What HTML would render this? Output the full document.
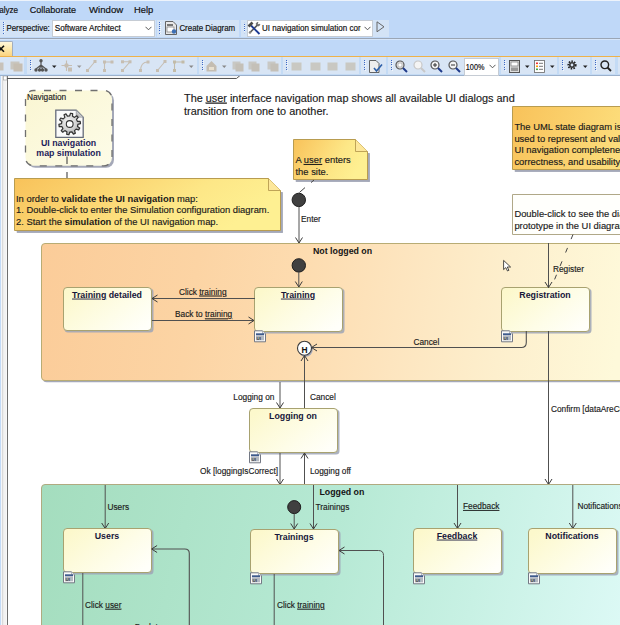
<!DOCTYPE html>
<html><head><meta charset="utf-8">
<style>
html,body{margin:0;padding:0;width:620px;height:625px;overflow:hidden;background:#fff;font-family:"Liberation Sans",sans-serif;}
.a{position:absolute;}
.t{position:absolute;white-space:nowrap;color:#1b1b1b;line-height:1;}
svg{position:absolute;left:0;top:0;}
</style></head><body>
<svg width="620" height="625" viewBox="0 0 620 625" font-family="Liberation Sans">
<defs>
<linearGradient id="gNote" x1="0" y1="0" x2="1" y2="0.3"><stop offset="0" stop-color="#f8c25a"/><stop offset="0.35" stop-color="#fbd470"/><stop offset="0.7" stop-color="#fde787"/><stop offset="1" stop-color="#fef092"/></linearGradient>
<linearGradient id="gNoteR" gradientUnits="userSpaceOnUse" x1="512" y1="106" x2="720" y2="170"><stop offset="0" stop-color="#f8c25a"/><stop offset="0.35" stop-color="#fbd470"/><stop offset="0.7" stop-color="#fde787"/><stop offset="1" stop-color="#fef092"/></linearGradient>
<linearGradient id="gState" x1="0" y1="0.2" x2="1" y2="0.8"><stop offset="0" stop-color="#fcf8cc"/><stop offset="0.6" stop-color="#fefde8"/><stop offset="1" stop-color="#fffffa"/></linearGradient>
<linearGradient id="gNav" x1="0" y1="0" x2="1" y2="1"><stop offset="0" stop-color="#faf6d2"/><stop offset="1" stop-color="#fdfce8"/></linearGradient>
<linearGradient id="gOrange" gradientUnits="userSpaceOnUse" x1="41" y1="243" x2="620" y2="330"><stop offset="0" stop-color="#fbcc99"/><stop offset="0.27" stop-color="#fcd4a4"/><stop offset="0.45" stop-color="#fddcb0"/><stop offset="0.62" stop-color="#fde5bf"/><stop offset="0.8" stop-color="#fdefcd"/><stop offset="1" stop-color="#fef9da"/></linearGradient>
<linearGradient id="gGreen" gradientUnits="userSpaceOnUse" x1="41" y1="484" x2="620" y2="625"><stop offset="0" stop-color="#a4ddbe"/><stop offset="0.5" stop-color="#b6e9d4"/><stop offset="0.75" stop-color="#c8f1e4"/><stop offset="1" stop-color="#dcf9f5"/></linearGradient>
</defs>
<rect x="0" y="76" width="1.2" height="549" fill="#c2daf7"/>
<rect x="1.2" y="76" width="1" height="549" fill="#f4f6f8"/>
<rect x="2.2" y="76" width="1.3" height="549" fill="#d2d2d2"/>
<rect x="3.5" y="76" width="3" height="549" fill="#f2f2f2"/>
<rect x="7" y="76" width="1" height="549" fill="#6e6e6e"/>
<rect x="3.5" y="76" width="3.5" height="4" fill="#fff" stroke="#999" stroke-width="0.6"/>
<rect x="8" y="76" width="232" height="2" fill="#f6f6f6"/>
<path d="M7,78.5 H236.5 L240,75.5" fill="none" stroke="#555" stroke-width="1"/>
<rect x="27.5" y="92.5" width="86.5" height="75.3" rx="8" fill="#a4a8b8"/>
<rect x="25.5" y="90.5" width="86.5" height="75.3" rx="8" fill="url(#gNav)" stroke="#707070" stroke-width="1.3" stroke-dasharray="7,8.5" stroke-dashoffset="5"/>
<text x="27" y="100" font-size="8.3" font-weight="400" text-anchor="start" fill="#222" stroke="#222" stroke-width="0.15" >Navigation</text>
<radialGradient id="gGear" cx="0.45" cy="0.4" r="0.6"><stop offset="0" stop-color="#f6f6f6"/><stop offset="0.6" stop-color="#d2d2d2"/><stop offset="1" stop-color="#a8a8a8"/></radialGradient>
<linearGradient id="gFold" x1="0" y1="1" x2="1" y2="0"><stop offset="0" stop-color="#a8a8a8"/><stop offset="1" stop-color="#f4f4f4"/></linearGradient>
<path d="M55.8,110.2 H76.2 L83.2,117.2 V137.4 H55.8 Z" fill="#fafafa" stroke="#656b7a" stroke-width="1.3"/>
<path d="M76.2,110.2 V117.2 H83.2 Z" fill="url(#gFold)" stroke="#8a8e98" stroke-width="0.6"/>
<path d="M69.70,115.80 L70.51,113.23 L72.65,113.61 L72.53,116.30 L74.52,117.37 L76.69,115.77 L78.19,117.33 L76.51,119.43 L77.50,121.47 L80.19,121.45 L80.49,123.59 L77.89,124.31 L77.50,126.53 L79.69,128.10 L78.67,130.01 L76.15,129.07 L74.52,130.63 L75.37,133.19 L73.42,134.14 L71.94,131.89 L69.70,132.20 L68.89,134.77 L66.75,134.39 L66.87,131.70 L64.88,130.63 L62.71,132.23 L61.21,130.67 L62.89,128.57 L61.90,126.53 L59.21,126.55 L58.91,124.41 L61.51,123.69 L61.90,121.47 L59.71,119.90 L60.73,117.99 L63.25,118.93 L64.88,117.37 L64.03,114.81 L65.98,113.86 L67.46,116.11 Z" fill="url(#gGear)" stroke="#333" stroke-width="1.2" stroke-linejoin="round"/>
<circle cx="69.7" cy="124" r="3.4" fill="#fff" stroke="#333" stroke-width="1.1"/>
<text x="68.6" y="146" font-size="8.8" font-weight="700" text-anchor="middle" fill="#1c1c5a" >UI navigation</text>
<text x="68.6" y="155.6" font-size="8.8" font-weight="700" text-anchor="middle" fill="#1c1c5a" >map simulation</text>
<path d="M67,156.5 V164 M67,172 V178" stroke="#444" stroke-width="1.1"/>
<path d="M16.5,191.5 L282.7,192.5 V232.7 H17.0 V230.5  H280.5 Z" fill="#a4a8b8"/><rect x="280.5" y="192.0" width="2.2" height="40.7" fill="#a4a8b8"/><rect x="16.7" y="230.5" width="266.0" height="2.2" fill="#a4a8b8"/><path d="M14.5,178.5 H268.5 L280.5,190.5 V230.5 H14.5 Z" fill="url(#gNote)" stroke="#b89c50" stroke-width="1"/><path d="M268.5,178.5 V190.5 H280.5" fill="#fde79a" stroke="#b89c50" stroke-width="0.9"/>
<text x="16" y="201.6" font-size="9.4" fill="#1a1a1a" stroke="#1a1a1a" stroke-width="0.15" xml:space="preserve"><tspan>In order to </tspan><tspan font-weight="700" stroke-width="0">validate the UI navigation</tspan><tspan> map:</tspan></text>
<text x="16" y="213" font-size="9.4" fill="#1a1a1a" stroke="#1a1a1a" stroke-width="0.15" xml:space="preserve"><tspan>1. Double-click to enter the Simulation configuration diagram.</tspan></text>
<text x="16" y="224.8" font-size="9.4" fill="#1a1a1a" stroke="#1a1a1a" stroke-width="0.15" xml:space="preserve"><tspan>2. Start the </tspan><tspan font-weight="700" stroke-width="0">simulation</tspan><tspan> of the UI navigation map.</tspan></text>
<text x="184" y="101.6" font-size="10.88" fill="#1a1a1a" stroke="#1a1a1a" stroke-width="0.15" xml:space="preserve"><tspan>The </tspan><tspan text-decoration="underline">user</tspan><tspan> interface navigation map shows all available UI dialogs and</tspan></text>
<text x="184" y="114.8" font-size="10.88" fill="#1a1a1a" stroke="#1a1a1a" stroke-width="0.15" xml:space="preserve"><tspan>transition from one to another.</tspan></text>
<path d="M295.5,152.5 L369.7,153.5 V181.7 H296.0 V179.5  H367.5 Z" fill="#a4a8b8"/><rect x="367.5" y="153.0" width="2.2" height="28.7" fill="#a4a8b8"/><rect x="295.7" y="179.5" width="74.0" height="2.2" fill="#a4a8b8"/><path d="M293.5,139.5 H355.5 L367.5,151.5 V179.5 H293.5 Z" fill="url(#gNote)" stroke="#b89c50" stroke-width="1"/><path d="M355.5,139.5 V151.5 H367.5" fill="#fde79a" stroke="#b89c50" stroke-width="0.9"/>
<text x="295.5" y="163" font-size="9.4" fill="#1a1a1a" stroke="#1a1a1a" stroke-width="0.15" xml:space="preserve"><tspan>A </tspan><tspan text-decoration="underline">user</tspan><tspan> enters</tspan></text>
<text x="295.5" y="175" font-size="9.4" fill="#1a1a1a" stroke="#1a1a1a" stroke-width="0.15" xml:space="preserve"><tspan>the site.</tspan></text>
<path d="M314,180 L311,182.6 M305,187.6 L299.5,192.4" stroke="#444" stroke-width="1"/>
<path d="M514.5,119.5 L702.7,120.5 V171.7 H515.0 V169.5  H700.5 Z" fill="#a4a8b8"/><rect x="700.5" y="120.0" width="2.2" height="51.7" fill="#a4a8b8"/><rect x="514.7" y="169.5" width="188.0" height="2.2" fill="#a4a8b8"/><path d="M512.5,106.5 H688.5 L700.5,118.5 V169.5 H512.5 Z" fill="url(#gNoteR)" stroke="#b89c50" stroke-width="1"/><path d="M688.5,106.5 V118.5 H700.5" fill="#fde79a" stroke="#b89c50" stroke-width="0.9"/>
<text x="514.4" y="130.3" font-size="9.4" fill="#1a1a1a" stroke="#1a1a1a" stroke-width="0.15" xml:space="preserve"><tspan>The UML state diagram is</tspan></text>
<text x="514.4" y="142" font-size="9.4" fill="#1a1a1a" stroke="#1a1a1a" stroke-width="0.15" xml:space="preserve"><tspan>used to represent and validate</tspan></text>
<text x="514.4" y="153.2" font-size="9.4" fill="#1a1a1a" stroke="#1a1a1a" stroke-width="0.15" xml:space="preserve"><tspan>UI navigation completeness,</tspan></text>
<text x="514.4" y="165" font-size="9.4" fill="#1a1a1a" stroke="#1a1a1a" stroke-width="0.15" xml:space="preserve"><tspan>correctness, and usability.</tspan></text>
<path d="M512.5,194.5 H688.5 L700.5,206.5 V234.5 H512.5 Z" fill="#fffffc" stroke="#b0a888" stroke-width="1"/><path d="M688.5,194.5 V206.5 H700.5" fill="#fde79a" stroke="#b0a888" stroke-width="0.9"/>
<text x="514.4" y="217.3" font-size="9.4" fill="#1a1a1a" stroke="#1a1a1a" stroke-width="0.15" xml:space="preserve"><tspan>Double-click to see the dialog</tspan></text>
<text x="514.4" y="229" font-size="9.4" fill="#1a1a1a" stroke="#1a1a1a" stroke-width="0.15" xml:space="preserve"><tspan>prototype in the UI diagram.</tspan></text>
<circle cx="298.8" cy="199.9" r="6.7" fill="#404040" stroke="#1e1e1e" stroke-width="1"/>
<line x1="299.0" y1="207" x2="299.0" y2="243" stroke="#505050" stroke-width="1"/>
<path d="M295.5,237.5 L299,243 L302.5,237.5" fill="none" stroke="#3c3c3c" stroke-width="1"/>
<text x="301" y="222" font-size="8.3" font-weight="400" text-anchor="start" fill="#1a1a1a" stroke="#1a1a1a" stroke-width="0.15" >Enter</text>
<rect x="43" y="245.2" width="600" height="137" rx="3.5" fill="#a4a8b8"/>
<rect x="41.5" y="243.5" width="600" height="137" rx="3.5" fill="url(#gOrange)" stroke="#b8ac74" stroke-width="1"/>
<text x="313" y="254.2" font-size="8.8" font-weight="700" text-anchor="start" fill="#141414" >Not logged on</text>
<circle cx="298.8" cy="265.4" r="6.7" fill="#404040" stroke="#1e1e1e" stroke-width="1"/>
<line x1="298.8" y1="272" x2="298.8" y2="287" stroke="#505050" stroke-width="1"/>
<path d="M295.3,281.5 L298.8,287 L302.3,281.5" fill="none" stroke="#3c3c3c" stroke-width="1"/>
<rect x="64.5" y="288.5" width="89" height="44" rx="3.5" fill="#9ea4b6" opacity="0.85"/><rect x="63.5" y="287.5" width="88" height="43" rx="3.5" fill="url(#gState)" stroke="#a8a270" stroke-width="1"/><text x="107.0" y="297.6" font-size="8.8" font-weight="700" text-anchor="middle" fill="#17173a" xml:space="preserve"><tspan text-decoration="underline">Training</tspan> detailed</text>
<rect x="255.5" y="288.5" width="89" height="45" rx="3.5" fill="#9ea4b6" opacity="0.85"/><rect x="254.5" y="287.5" width="88" height="44" rx="3.5" fill="url(#gState)" stroke="#a8a270" stroke-width="1"/><text x="298.0" y="297.6" font-size="8.8" font-weight="700" text-anchor="middle" fill="#17173a" xml:space="preserve"><tspan text-decoration="underline">Training</tspan></text><g transform="translate(254,330.3)"><path d="M0.5,0.5 H8.5 L11.5,3.5 V11.5 H0.5 Z" fill="#fafafa" stroke="#737884" stroke-width="1"/><path d="M8.5,0.5 V3.5 H11.5" fill="#e8e8e8" stroke="#8a8e98" stroke-width="0.6"/><rect x="2" y="3" width="8" height="2" fill="#3e5a8c"/><rect x="2" y="5.2" width="8" height="4.8" fill="#b4b8c0"/><text x="2.6" y="9.6" font-size="4.4" font-weight="700" fill="#30343c">UI</text></g>
<rect x="502.5" y="288.5" width="89" height="45" rx="3.5" fill="#9ea4b6" opacity="0.85"/><rect x="501.5" y="287.5" width="88" height="44" rx="3.5" fill="url(#gState)" stroke="#a8a270" stroke-width="1"/><text x="545.0" y="297.6" font-size="8.8" font-weight="700" text-anchor="middle" fill="#17173a" >Registration</text><g transform="translate(501,330.3)"><path d="M0.5,0.5 H8.5 L11.5,3.5 V11.5 H0.5 Z" fill="#fafafa" stroke="#737884" stroke-width="1"/><path d="M8.5,0.5 V3.5 H11.5" fill="#e8e8e8" stroke="#8a8e98" stroke-width="0.6"/><rect x="2" y="3" width="8" height="2" fill="#3e5a8c"/><rect x="2" y="5.2" width="8" height="4.8" fill="#b4b8c0"/><text x="2.6" y="9.6" font-size="4.4" font-weight="700" fill="#30343c">UI</text></g>
<line x1="152" y1="298.5" x2="255" y2="298.5" stroke="#505050" stroke-width="1"/>
<path d="M157.5,295.0 L152,298.5 L157.5,302.0" fill="none" stroke="#3c3c3c" stroke-width="1"/>
<text x="179" y="294.6" font-size="8.3" fill="#1a1a1a" stroke="#1a1a1a" stroke-width="0.15" xml:space="preserve"><tspan>Click </tspan><tspan text-decoration="underline">training</tspan></text>
<line x1="152" y1="320.5" x2="254" y2="320.5" stroke="#505050" stroke-width="1"/>
<path d="M248.5,317.0 L254,320.5 L248.5,324.0" fill="none" stroke="#3c3c3c" stroke-width="1"/>
<text x="175" y="317.4" font-size="8.3" fill="#1a1a1a" stroke="#1a1a1a" stroke-width="0.15" xml:space="preserve"><tspan>Back to </tspan><tspan text-decoration="underline">training</tspan></text>
<circle cx="305.6" cy="349.6" r="7.2" fill="#a4a8b8"/>
<circle cx="304.5" cy="348.2" r="7" fill="#fff" stroke="#3c3c3c" stroke-width="1.1"/>
<text x="304.5" y="352.5" font-size="8.4" font-weight="700" text-anchor="middle" fill="#111" >H</text>
<path d="M526.3,331 V342.5 Q526.3,347.5 521.3,347.5 H311.5" fill="none" stroke="#505050" stroke-width="1.1"/>
<path d="M317.0,344.0 L311.5,347.5 L317.0,351.0" fill="none" stroke="#3c3c3c" stroke-width="1"/>
<text x="413.5" y="344.6" font-size="8.3" font-weight="400" text-anchor="start" fill="#1a1a1a" stroke="#1a1a1a" stroke-width="0.15" >Cancel</text>
<line x1="548.5" y1="243" x2="548.5" y2="287.5" stroke="#505050" stroke-width="1"/>
<path d="M545.0,282.0 L548.5,287.5 L552.0,282.0" fill="none" stroke="#3c3c3c" stroke-width="1"/>
<text x="553" y="271.6" font-size="8.3" font-weight="400" text-anchor="start" fill="#1a1a1a" stroke="#1a1a1a" stroke-width="0.15" >Register</text>
<line x1="573" y1="234.5" x2="551.5" y2="287" stroke="#444" stroke-width="1" stroke-dasharray="5,9.5"/>
<line x1="548.5" y1="331" x2="548.5" y2="484.5" stroke="#505050" stroke-width="1"/>
<path d="M545.0,479.0 L548.5,484.5 L552.0,479.0" fill="none" stroke="#3c3c3c" stroke-width="1"/>
<text x="551" y="411.5" font-size="8.3" font-weight="400" text-anchor="start" fill="#1a1a1a" stroke="#1a1a1a" stroke-width="0.15" >Confirm [dataAreCorrect]</text>
<line x1="280.0" y1="382" x2="280.0" y2="408" stroke="#505050" stroke-width="1"/>
<path d="M276.5,402.5 L280,408 L283.5,402.5" fill="none" stroke="#3c3c3c" stroke-width="1"/>
<text x="233.3" y="400" font-size="8.3" font-weight="400" text-anchor="start" fill="#1a1a1a" stroke="#1a1a1a" stroke-width="0.15" >Logging on</text>
<line x1="304.5" y1="356" x2="304.5" y2="408" stroke="#505050" stroke-width="1"/>
<path d="M301.0,361.0 L304.5,355.5 L308.0,361.0" fill="none" stroke="#3c3c3c" stroke-width="1"/>
<text x="310" y="400" font-size="8.3" font-weight="400" text-anchor="start" fill="#1a1a1a" stroke="#1a1a1a" stroke-width="0.15" >Cancel</text>
<rect x="250.5" y="409.5" width="89" height="45" rx="3.5" fill="#9ea4b6" opacity="0.85"/><rect x="249.5" y="408.5" width="88" height="44" rx="3.5" fill="url(#gState)" stroke="#a8a270" stroke-width="1"/><text x="293.0" y="418.6" font-size="8.8" font-weight="700" text-anchor="middle" fill="#17173a" >Logging on</text><g transform="translate(249,451.3)"><path d="M0.5,0.5 H8.5 L11.5,3.5 V11.5 H0.5 Z" fill="#fafafa" stroke="#737884" stroke-width="1"/><path d="M8.5,0.5 V3.5 H11.5" fill="#e8e8e8" stroke="#8a8e98" stroke-width="0.6"/><rect x="2" y="3" width="8" height="2" fill="#3e5a8c"/><rect x="2" y="5.2" width="8" height="4.8" fill="#b4b8c0"/><text x="2.6" y="9.6" font-size="4.4" font-weight="700" fill="#30343c">UI</text></g>
<line x1="280.0" y1="453" x2="280.0" y2="484.5" stroke="#505050" stroke-width="1"/>
<path d="M276.5,479.0 L280,484.5 L283.5,479.0" fill="none" stroke="#3c3c3c" stroke-width="1"/>
<text x="278" y="473.6" font-size="8.3" font-weight="400" text-anchor="end" fill="#1a1a1a" stroke="#1a1a1a" stroke-width="0.15" >Ok [loggingIsCorrect]</text>
<line x1="304.5" y1="453" x2="304.5" y2="484.5" stroke="#505050" stroke-width="1"/>
<path d="M301.0,458.5 L304.5,453 L308.0,458.5" fill="none" stroke="#3c3c3c" stroke-width="1"/>
<text x="310" y="473.6" font-size="8.3" font-weight="400" text-anchor="start" fill="#1a1a1a" stroke="#1a1a1a" stroke-width="0.15" >Logging off</text>
<rect x="43" y="486.5" width="600" height="200" rx="3.5" fill="#a4a8b8"/>
<rect x="41.5" y="484.5" width="600" height="200" rx="3.5" fill="url(#gGreen)" stroke="#b0aa80" stroke-width="1"/>
<text x="319.4" y="494.8" font-size="8.8" font-weight="700" text-anchor="start" fill="#141414" >Logged on</text>
<line x1="105.2" y1="485" x2="105.2" y2="528.5" stroke="#505050" stroke-width="1"/>
<path d="M101.7,523.0 L105.2,528.5 L108.7,523.0" fill="none" stroke="#3c3c3c" stroke-width="1"/>
<text x="107.4" y="509.7" font-size="8.3" font-weight="400" text-anchor="start" fill="#1a1a1a" stroke="#1a1a1a" stroke-width="0.15" >Users</text>
<rect x="64.5" y="529.5" width="89" height="45" rx="3.5" fill="#9ea4b6" opacity="0.85"/><rect x="63.5" y="528.5" width="88" height="44" rx="3.5" fill="url(#gState)" stroke="#a8a270" stroke-width="1"/><text x="107.0" y="538.6" font-size="8.8" font-weight="700" text-anchor="middle" fill="#17173a" >Users</text><g transform="translate(63,571.3)"><path d="M0.5,0.5 H8.5 L11.5,3.5 V11.5 H0.5 Z" fill="#fafafa" stroke="#737884" stroke-width="1"/><path d="M8.5,0.5 V3.5 H11.5" fill="#e8e8e8" stroke="#8a8e98" stroke-width="0.6"/><rect x="2" y="3" width="8" height="2" fill="#3e5a8c"/><rect x="2" y="5.2" width="8" height="4.8" fill="#b4b8c0"/><text x="2.6" y="9.6" font-size="4.4" font-weight="700" fill="#30343c">UI</text></g>
<circle cx="294.2" cy="507.1" r="6.5" fill="#404040" stroke="#1e1e1e" stroke-width="1"/>
<line x1="294.2" y1="514" x2="294.2" y2="529" stroke="#505050" stroke-width="1"/>
<path d="M290.7,523.5 L294.2,529 L297.7,523.5" fill="none" stroke="#3c3c3c" stroke-width="1"/>
<line x1="313.5" y1="485" x2="313.5" y2="529" stroke="#505050" stroke-width="1"/>
<path d="M310.0,523.5 L313.5,529 L317.0,523.5" fill="none" stroke="#3c3c3c" stroke-width="1"/>
<text x="315.5" y="509.8" font-size="8.3" font-weight="400" text-anchor="start" fill="#1a1a1a" stroke="#1a1a1a" stroke-width="0.15" >Trainings</text>
<rect x="251.5" y="530.5" width="89" height="45" rx="3.5" fill="#9ea4b6" opacity="0.85"/><rect x="250.5" y="529.5" width="88" height="44" rx="3.5" fill="url(#gState)" stroke="#a8a270" stroke-width="1"/><text x="294.0" y="539.6" font-size="8.8" font-weight="700" text-anchor="middle" fill="#17173a" >Trainings</text><g transform="translate(250,572.3)"><path d="M0.5,0.5 H8.5 L11.5,3.5 V11.5 H0.5 Z" fill="#fafafa" stroke="#737884" stroke-width="1"/><path d="M8.5,0.5 V3.5 H11.5" fill="#e8e8e8" stroke="#8a8e98" stroke-width="0.6"/><rect x="2" y="3" width="8" height="2" fill="#3e5a8c"/><rect x="2" y="5.2" width="8" height="4.8" fill="#b4b8c0"/><text x="2.6" y="9.6" font-size="4.4" font-weight="700" fill="#30343c">UI</text></g>
<line x1="457.5" y1="485" x2="457.5" y2="528.5" stroke="#505050" stroke-width="1"/>
<path d="M454.0,523.0 L457.5,528.5 L461.0,523.0" fill="none" stroke="#3c3c3c" stroke-width="1"/>
<text x="463" y="509" font-size="8.3" fill="#1a1a1a" stroke="#1a1a1a" stroke-width="0.15" xml:space="preserve"><tspan text-decoration="underline">Feedback</tspan></text>
<rect x="414.5" y="529.5" width="89" height="46" rx="3.5" fill="#9ea4b6" opacity="0.85"/><rect x="413.5" y="528.5" width="88" height="45" rx="3.5" fill="url(#gState)" stroke="#a8a270" stroke-width="1"/><text x="457.0" y="538.6" font-size="8.8" font-weight="700" text-anchor="middle" fill="#17173a" xml:space="preserve"><tspan text-decoration="underline">Feedback</tspan></text><g transform="translate(413,572.3)"><path d="M0.5,0.5 H8.5 L11.5,3.5 V11.5 H0.5 Z" fill="#fafafa" stroke="#737884" stroke-width="1"/><path d="M8.5,0.5 V3.5 H11.5" fill="#e8e8e8" stroke="#8a8e98" stroke-width="0.6"/><rect x="2" y="3" width="8" height="2" fill="#3e5a8c"/><rect x="2" y="5.2" width="8" height="4.8" fill="#b4b8c0"/><text x="2.6" y="9.6" font-size="4.4" font-weight="700" fill="#30343c">UI</text></g>
<line x1="572.8" y1="485" x2="572.8" y2="528.5" stroke="#505050" stroke-width="1"/>
<path d="M569.3,523.0 L572.8,528.5 L576.3,523.0" fill="none" stroke="#3c3c3c" stroke-width="1"/>
<text x="577.4" y="509" font-size="8.3" font-weight="400" text-anchor="start" fill="#1a1a1a" stroke="#1a1a1a" stroke-width="0.15" >Notifications</text>
<rect x="529.5" y="529.5" width="89" height="46" rx="3.5" fill="#9ea4b6" opacity="0.85"/><rect x="528.5" y="528.5" width="88" height="45" rx="3.5" fill="url(#gState)" stroke="#a8a270" stroke-width="1"/><text x="572.0" y="538.6" font-size="8.8" font-weight="700" text-anchor="middle" fill="#17173a" >Notifications</text><g transform="translate(528,572.3)"><path d="M0.5,0.5 H8.5 L11.5,3.5 V11.5 H0.5 Z" fill="#fafafa" stroke="#737884" stroke-width="1"/><path d="M8.5,0.5 V3.5 H11.5" fill="#e8e8e8" stroke="#8a8e98" stroke-width="0.6"/><rect x="2" y="3" width="8" height="2" fill="#3e5a8c"/><rect x="2" y="5.2" width="8" height="4.8" fill="#b4b8c0"/><text x="2.6" y="9.6" font-size="4.4" font-weight="700" fill="#30343c">UI</text></g>
<line x1="82.8" y1="573" x2="82.8" y2="625" stroke="#505050" stroke-width="1"/>
<text x="85" y="607.8" font-size="8.3" fill="#1a1a1a" stroke="#1a1a1a" stroke-width="0.15" xml:space="preserve"><tspan>Click </tspan><tspan text-decoration="underline">user</tspan></text>
<path d="M189.3,625 V553.5 Q189.3,549 184.8,549 H152" fill="none" stroke="#505050" stroke-width="1.1"/>
<path d="M157.1,545.5 L151.6,549 L157.1,552.5" fill="none" stroke="#3c3c3c" stroke-width="1"/>
<text x="134.7" y="630.2" font-size="8.3" font-weight="400" text-anchor="start" fill="#1a1a1a" stroke="#1a1a1a" stroke-width="0.15" >Back to</text>
<line x1="274.2" y1="574" x2="274.2" y2="625" stroke="#505050" stroke-width="1"/>
<text x="277" y="607.8" font-size="8.3" fill="#1a1a1a" stroke="#1a1a1a" stroke-width="0.15" xml:space="preserve"><tspan>Click </tspan><tspan text-decoration="underline">training</tspan></text>
<path d="M383.5,625 V555.5 Q383.5,550.5 378.5,550.5 H339" fill="none" stroke="#505050" stroke-width="1"/>
<path d="M344.5,547.0 L339,550.5 L344.5,554.0" fill="none" stroke="#3c3c3c" stroke-width="1"/>
<path d="M503.6,260.4 V269.6 L505.8,267.6 L507.5,271 L508.9,270.3 L507.3,267 L510.6,267 Z" fill="#fff" stroke="#222" stroke-width="0.8" stroke-linejoin="round"/>
</svg>
<div class="a" style="left:0;top:0;width:620px;height:76px;background:#bfd8f8;overflow:hidden">
<div class="a" style="left:0;top:0;width:620px;height:1px;background:#edf3fb"></div>
<div class="a" style="left:0px;top:20px;width:155.5px;height:16.5px;background:#d3e3f6"></div>
<div class="a" style="left:156.5px;top:20px;width:82.0px;height:16.5px;background:#d3e3f6"></div>
<div class="a" style="left:241px;top:20px;width:148px;height:16.5px;background:#d3e3f6"></div>
<div class="a" style="left:3px;top:21.5px;width:1px;height:1px;background:#3d68c4"></div><div class="a" style="left:3.8px;top:22.3px;width:1px;height:1px;background:#fff;opacity:.7"></div><div class="a" style="left:3px;top:23.7px;width:1px;height:1px;background:#3d68c4"></div><div class="a" style="left:3.8px;top:24.5px;width:1px;height:1px;background:#fff;opacity:.7"></div><div class="a" style="left:3px;top:25.9px;width:1px;height:1px;background:#3d68c4"></div><div class="a" style="left:3.8px;top:26.7px;width:1px;height:1px;background:#fff;opacity:.7"></div><div class="a" style="left:3px;top:28.099999999999998px;width:1px;height:1px;background:#3d68c4"></div><div class="a" style="left:3.8px;top:28.9px;width:1px;height:1px;background:#fff;opacity:.7"></div><div class="a" style="left:3px;top:30.299999999999997px;width:1px;height:1px;background:#3d68c4"></div><div class="a" style="left:3.8px;top:31.099999999999998px;width:1px;height:1px;background:#fff;opacity:.7"></div><div class="a" style="left:3px;top:32.5px;width:1px;height:1px;background:#3d68c4"></div><div class="a" style="left:3.8px;top:33.3px;width:1px;height:1px;background:#fff;opacity:.7"></div>
<div class="a" style="left:52.4px;top:20.3px;width:100.5px;height:15px;background:#fff;border:0.6px solid #c6ccd4"></div>
<svg class="a" style="left:145px;top:26px" width="7" height="5"><path d="M0.5,0.8 L3.5,3.8 L6.5,0.8" fill="none" stroke="#444" stroke-width="0.9"/></svg>
<div class="a" style="left:159.4px;top:21.5px;width:1px;height:1px;background:#3d68c4"></div><div class="a" style="left:160.20000000000002px;top:22.3px;width:1px;height:1px;background:#fff;opacity:.7"></div><div class="a" style="left:159.4px;top:23.7px;width:1px;height:1px;background:#3d68c4"></div><div class="a" style="left:160.20000000000002px;top:24.5px;width:1px;height:1px;background:#fff;opacity:.7"></div><div class="a" style="left:159.4px;top:25.9px;width:1px;height:1px;background:#3d68c4"></div><div class="a" style="left:160.20000000000002px;top:26.7px;width:1px;height:1px;background:#fff;opacity:.7"></div><div class="a" style="left:159.4px;top:28.099999999999998px;width:1px;height:1px;background:#3d68c4"></div><div class="a" style="left:160.20000000000002px;top:28.9px;width:1px;height:1px;background:#fff;opacity:.7"></div><div class="a" style="left:159.4px;top:30.299999999999997px;width:1px;height:1px;background:#3d68c4"></div><div class="a" style="left:160.20000000000002px;top:31.099999999999998px;width:1px;height:1px;background:#fff;opacity:.7"></div><div class="a" style="left:159.4px;top:32.5px;width:1px;height:1px;background:#3d68c4"></div><div class="a" style="left:160.20000000000002px;top:33.3px;width:1px;height:1px;background:#fff;opacity:.7"></div>
<svg class="a" style="left:164.5px;top:21px" width="12" height="14"><path d="M0.5,0.5 H8 L11.5,4 V13.5 H0.5Z" fill="#e8e8e8" stroke="#555" stroke-width="0.9"/><rect x="2" y="3" width="6" height="2" fill="#777"/><rect x="2" y="6" width="7" height="5" fill="#fff" stroke="#777" stroke-width="0.7"/><circle cx="9" cy="10.5" r="2.2" fill="#3d6fb5"/></svg>
<div class="a" style="left:243.5px;top:21.5px;width:1px;height:1px;background:#3d68c4"></div><div class="a" style="left:244.3px;top:22.3px;width:1px;height:1px;background:#fff;opacity:.7"></div><div class="a" style="left:243.5px;top:23.7px;width:1px;height:1px;background:#3d68c4"></div><div class="a" style="left:244.3px;top:24.5px;width:1px;height:1px;background:#fff;opacity:.7"></div><div class="a" style="left:243.5px;top:25.9px;width:1px;height:1px;background:#3d68c4"></div><div class="a" style="left:244.3px;top:26.7px;width:1px;height:1px;background:#fff;opacity:.7"></div><div class="a" style="left:243.5px;top:28.099999999999998px;width:1px;height:1px;background:#3d68c4"></div><div class="a" style="left:244.3px;top:28.9px;width:1px;height:1px;background:#fff;opacity:.7"></div><div class="a" style="left:243.5px;top:30.299999999999997px;width:1px;height:1px;background:#3d68c4"></div><div class="a" style="left:244.3px;top:31.099999999999998px;width:1px;height:1px;background:#fff;opacity:.7"></div><div class="a" style="left:243.5px;top:32.5px;width:1px;height:1px;background:#3d68c4"></div><div class="a" style="left:244.3px;top:33.3px;width:1px;height:1px;background:#fff;opacity:.7"></div>
<div class="a" style="left:246.6px;top:20.2px;width:124px;height:15px;background:#fff;border:0.6px solid #c6ccd4;overflow:hidden"><div class="a" style="left:114px;top:0;width:12px;height:16px;background:#fff"></div></div>
<svg class="a" style="left:247px;top:21px" width="14" height="14"><path d="M3,11.5 L10.5,4" stroke="#5a5a5a" stroke-width="1.6"/><path d="M9.2,2.2 L9.6,4.6 L12,5 L13,3.2 L11.6,3.6 L10.6,2.6 L11,1.2 Z" fill="#777" stroke="#555" stroke-width="0.6"/><circle cx="3" cy="11.5" r="1.3" fill="#888"/><path d="M4,4.5 L12.5,13" stroke="#1c3a94" stroke-width="1.9"/><path d="M1.5,5.5 L5.5,1.5" stroke="#4a4a4a" stroke-width="2.6"/></svg>
<svg class="a" style="left:363.5px;top:26px" width="7" height="5"><path d="M0.5,0.8 L3.5,3.8 L6.5,0.8" fill="none" stroke="#444" stroke-width="0.9"/></svg>
<svg class="a" style="left:376px;top:20.5px" width="9" height="12"><path d="M1,0.8 L8,5.8 L1,10.8 Z" fill="none" stroke="#666" stroke-width="1"/></svg>
<div class="a" style="left:0;top:38px;width:620px;height:1px;background:#9ba6b5"></div>
<div class="a" style="left:0;top:39px;width:620px;height:1px;background:#d6e6fb"></div>
<div class="a" style="left:-1px;top:40.6px;width:11.6px;height:15.4px;background:linear-gradient(#fff7dc,#fde7a6 50%,#fbd07a);border:0.7px solid #a3adbb;border-bottom:none;border-radius:0 2px 0 0"></div>
<svg class="a" style="left:0;top:44.5px" width="6" height="8"><path d="M-2,0.8 L4,6.8 M4,0.8 L-2,6.8" stroke="#111" stroke-width="1.6"/></svg>
<div class="a" style="left:0;top:55.8px;width:620px;height:1.6px;background:#eeb24a"></div>
<div class="a" style="left:0;top:57.4px;width:620px;height:17.2px;background:#c4dbf5"></div>
<div class="a" style="left:0px;top:57.4px;width:24px;height:17px;background:#d8e5f5"></div>
<div class="a" style="left:27px;top:57.4px;width:169.5px;height:17px;background:#d8e5f5"></div>
<div class="a" style="left:198.5px;top:57.4px;width:82.0px;height:17px;background:#d8e5f5"></div>
<div class="a" style="left:283px;top:57.4px;width:76px;height:17px;background:#d8e5f5"></div>
<div class="a" style="left:361px;top:57.4px;width:24.5px;height:17px;background:#d8e5f5"></div>
<div class="a" style="left:387.5px;top:57.4px;width:111.0px;height:17px;background:#d8e5f5"></div>
<div class="a" style="left:500.5px;top:57.4px;width:56.0px;height:17px;background:#d8e5f5"></div>
<div class="a" style="left:558.5px;top:57.4px;width:31.100000000000023px;height:17px;background:#d8e5f5"></div>
<div class="a" style="left:591.5px;top:57.4px;width:23.899999999999977px;height:17px;background:#d8e5f5"></div>
<div class="a" style="left:617.5px;top:57.4px;width:7.5px;height:17px;background:#d8e5f5"></div>
<div class="a" style="left:30.2px;top:60px;width:1px;height:1px;background:#3d68c4"></div><div class="a" style="left:31.0px;top:60.8px;width:1px;height:1px;background:#fff;opacity:.7"></div><div class="a" style="left:30.2px;top:62.2px;width:1px;height:1px;background:#3d68c4"></div><div class="a" style="left:31.0px;top:63.0px;width:1px;height:1px;background:#fff;opacity:.7"></div><div class="a" style="left:30.2px;top:64.4px;width:1px;height:1px;background:#3d68c4"></div><div class="a" style="left:31.0px;top:65.2px;width:1px;height:1px;background:#fff;opacity:.7"></div><div class="a" style="left:30.2px;top:66.60000000000001px;width:1px;height:1px;background:#3d68c4"></div><div class="a" style="left:31.0px;top:67.4px;width:1px;height:1px;background:#fff;opacity:.7"></div><div class="a" style="left:30.2px;top:68.80000000000001px;width:1px;height:1px;background:#3d68c4"></div><div class="a" style="left:31.0px;top:69.60000000000001px;width:1px;height:1px;background:#fff;opacity:.7"></div>
<div class="a" style="left:201.7px;top:60px;width:1px;height:1px;background:#3d68c4"></div><div class="a" style="left:202.5px;top:60.8px;width:1px;height:1px;background:#fff;opacity:.7"></div><div class="a" style="left:201.7px;top:62.2px;width:1px;height:1px;background:#3d68c4"></div><div class="a" style="left:202.5px;top:63.0px;width:1px;height:1px;background:#fff;opacity:.7"></div><div class="a" style="left:201.7px;top:64.4px;width:1px;height:1px;background:#3d68c4"></div><div class="a" style="left:202.5px;top:65.2px;width:1px;height:1px;background:#fff;opacity:.7"></div><div class="a" style="left:201.7px;top:66.60000000000001px;width:1px;height:1px;background:#3d68c4"></div><div class="a" style="left:202.5px;top:67.4px;width:1px;height:1px;background:#fff;opacity:.7"></div><div class="a" style="left:201.7px;top:68.80000000000001px;width:1px;height:1px;background:#3d68c4"></div><div class="a" style="left:202.5px;top:69.60000000000001px;width:1px;height:1px;background:#fff;opacity:.7"></div>
<div class="a" style="left:286.2px;top:60px;width:1px;height:1px;background:#3d68c4"></div><div class="a" style="left:287.0px;top:60.8px;width:1px;height:1px;background:#fff;opacity:.7"></div><div class="a" style="left:286.2px;top:62.2px;width:1px;height:1px;background:#3d68c4"></div><div class="a" style="left:287.0px;top:63.0px;width:1px;height:1px;background:#fff;opacity:.7"></div><div class="a" style="left:286.2px;top:64.4px;width:1px;height:1px;background:#3d68c4"></div><div class="a" style="left:287.0px;top:65.2px;width:1px;height:1px;background:#fff;opacity:.7"></div><div class="a" style="left:286.2px;top:66.60000000000001px;width:1px;height:1px;background:#3d68c4"></div><div class="a" style="left:287.0px;top:67.4px;width:1px;height:1px;background:#fff;opacity:.7"></div><div class="a" style="left:286.2px;top:68.80000000000001px;width:1px;height:1px;background:#3d68c4"></div><div class="a" style="left:287.0px;top:69.60000000000001px;width:1px;height:1px;background:#fff;opacity:.7"></div>
<div class="a" style="left:364.2px;top:60px;width:1px;height:1px;background:#3d68c4"></div><div class="a" style="left:365.0px;top:60.8px;width:1px;height:1px;background:#fff;opacity:.7"></div><div class="a" style="left:364.2px;top:62.2px;width:1px;height:1px;background:#3d68c4"></div><div class="a" style="left:365.0px;top:63.0px;width:1px;height:1px;background:#fff;opacity:.7"></div><div class="a" style="left:364.2px;top:64.4px;width:1px;height:1px;background:#3d68c4"></div><div class="a" style="left:365.0px;top:65.2px;width:1px;height:1px;background:#fff;opacity:.7"></div><div class="a" style="left:364.2px;top:66.60000000000001px;width:1px;height:1px;background:#3d68c4"></div><div class="a" style="left:365.0px;top:67.4px;width:1px;height:1px;background:#fff;opacity:.7"></div><div class="a" style="left:364.2px;top:68.80000000000001px;width:1px;height:1px;background:#3d68c4"></div><div class="a" style="left:365.0px;top:69.60000000000001px;width:1px;height:1px;background:#fff;opacity:.7"></div>
<div class="a" style="left:390.7px;top:60px;width:1px;height:1px;background:#3d68c4"></div><div class="a" style="left:391.5px;top:60.8px;width:1px;height:1px;background:#fff;opacity:.7"></div><div class="a" style="left:390.7px;top:62.2px;width:1px;height:1px;background:#3d68c4"></div><div class="a" style="left:391.5px;top:63.0px;width:1px;height:1px;background:#fff;opacity:.7"></div><div class="a" style="left:390.7px;top:64.4px;width:1px;height:1px;background:#3d68c4"></div><div class="a" style="left:391.5px;top:65.2px;width:1px;height:1px;background:#fff;opacity:.7"></div><div class="a" style="left:390.7px;top:66.60000000000001px;width:1px;height:1px;background:#3d68c4"></div><div class="a" style="left:391.5px;top:67.4px;width:1px;height:1px;background:#fff;opacity:.7"></div><div class="a" style="left:390.7px;top:68.80000000000001px;width:1px;height:1px;background:#3d68c4"></div><div class="a" style="left:391.5px;top:69.60000000000001px;width:1px;height:1px;background:#fff;opacity:.7"></div>
<div class="a" style="left:503.7px;top:60px;width:1px;height:1px;background:#3d68c4"></div><div class="a" style="left:504.5px;top:60.8px;width:1px;height:1px;background:#fff;opacity:.7"></div><div class="a" style="left:503.7px;top:62.2px;width:1px;height:1px;background:#3d68c4"></div><div class="a" style="left:504.5px;top:63.0px;width:1px;height:1px;background:#fff;opacity:.7"></div><div class="a" style="left:503.7px;top:64.4px;width:1px;height:1px;background:#3d68c4"></div><div class="a" style="left:504.5px;top:65.2px;width:1px;height:1px;background:#fff;opacity:.7"></div><div class="a" style="left:503.7px;top:66.60000000000001px;width:1px;height:1px;background:#3d68c4"></div><div class="a" style="left:504.5px;top:67.4px;width:1px;height:1px;background:#fff;opacity:.7"></div><div class="a" style="left:503.7px;top:68.80000000000001px;width:1px;height:1px;background:#3d68c4"></div><div class="a" style="left:504.5px;top:69.60000000000001px;width:1px;height:1px;background:#fff;opacity:.7"></div>
<div class="a" style="left:561.7px;top:60px;width:1px;height:1px;background:#3d68c4"></div><div class="a" style="left:562.5px;top:60.8px;width:1px;height:1px;background:#fff;opacity:.7"></div><div class="a" style="left:561.7px;top:62.2px;width:1px;height:1px;background:#3d68c4"></div><div class="a" style="left:562.5px;top:63.0px;width:1px;height:1px;background:#fff;opacity:.7"></div><div class="a" style="left:561.7px;top:64.4px;width:1px;height:1px;background:#3d68c4"></div><div class="a" style="left:562.5px;top:65.2px;width:1px;height:1px;background:#fff;opacity:.7"></div><div class="a" style="left:561.7px;top:66.60000000000001px;width:1px;height:1px;background:#3d68c4"></div><div class="a" style="left:562.5px;top:67.4px;width:1px;height:1px;background:#fff;opacity:.7"></div><div class="a" style="left:561.7px;top:68.80000000000001px;width:1px;height:1px;background:#3d68c4"></div><div class="a" style="left:562.5px;top:69.60000000000001px;width:1px;height:1px;background:#fff;opacity:.7"></div>
<div class="a" style="left:594.7px;top:60px;width:1px;height:1px;background:#3d68c4"></div><div class="a" style="left:595.5px;top:60.8px;width:1px;height:1px;background:#fff;opacity:.7"></div><div class="a" style="left:594.7px;top:62.2px;width:1px;height:1px;background:#3d68c4"></div><div class="a" style="left:595.5px;top:63.0px;width:1px;height:1px;background:#fff;opacity:.7"></div><div class="a" style="left:594.7px;top:64.4px;width:1px;height:1px;background:#3d68c4"></div><div class="a" style="left:595.5px;top:65.2px;width:1px;height:1px;background:#fff;opacity:.7"></div><div class="a" style="left:594.7px;top:66.60000000000001px;width:1px;height:1px;background:#3d68c4"></div><div class="a" style="left:595.5px;top:67.4px;width:1px;height:1px;background:#fff;opacity:.7"></div><div class="a" style="left:594.7px;top:68.80000000000001px;width:1px;height:1px;background:#3d68c4"></div><div class="a" style="left:595.5px;top:69.60000000000001px;width:1px;height:1px;background:#fff;opacity:.7"></div>
<div class="a" style="left:620.7px;top:60px;width:1px;height:1px;background:#3d68c4"></div><div class="a" style="left:621.5px;top:60.8px;width:1px;height:1px;background:#fff;opacity:.7"></div><div class="a" style="left:620.7px;top:62.2px;width:1px;height:1px;background:#3d68c4"></div><div class="a" style="left:621.5px;top:63.0px;width:1px;height:1px;background:#fff;opacity:.7"></div><div class="a" style="left:620.7px;top:64.4px;width:1px;height:1px;background:#3d68c4"></div><div class="a" style="left:621.5px;top:65.2px;width:1px;height:1px;background:#fff;opacity:.7"></div><div class="a" style="left:620.7px;top:66.60000000000001px;width:1px;height:1px;background:#3d68c4"></div><div class="a" style="left:621.5px;top:67.4px;width:1px;height:1px;background:#fff;opacity:.7"></div><div class="a" style="left:620.7px;top:68.80000000000001px;width:1px;height:1px;background:#3d68c4"></div><div class="a" style="left:621.5px;top:69.60000000000001px;width:1px;height:1px;background:#fff;opacity:.7"></div>
<div class="a" style="left:0;top:74.5px;width:620px;height:1px;background:#9cb1cc"></div>
<div class="a" style="left:0;top:75.5px;width:620px;height:0.8px;background:#e4ecf6"></div>
<svg class="a" style="left:-3px;top:60px" width="8" height="12"><rect x="0.5" y="2.5" width="6" height="8" fill="#c6beb2" opacity="0.9"/></svg>
<svg class="a" style="left:9.5px;top:60px" width="13" height="12"><rect x="0.5" y="1.5" width="9" height="8" fill="#c6beb2" opacity="0.8"/><rect x="3.5" y="3.5" width="9" height="8" fill="#c6beb2"/></svg>
<svg class="a" style="left:33.8px;top:59.2px" width="14" height="13"><circle cx="7" cy="1.8" r="1.7" fill="#555"/><path d="M7,3 V6 M7,6 L2,10 M7,6 L5.5,10 M7,6 L8.5,10 M7,6 L12,10" stroke="#555" stroke-width="1.2"/><circle cx="2" cy="11" r="1.7" fill="#555"/><circle cx="5.5" cy="11" r="1.7" fill="#555"/><circle cx="8.5" cy="11" r="1.7" fill="#555"/><circle cx="12" cy="11" r="1.7" fill="#555"/></svg>
<svg class="a" style="left:52px;top:64.5px" width="5" height="4"><path d="M0,0.5 H4.5 L2.25,3 Z" fill="#222"/></svg>
<svg class="a" style="left:61px;top:60px" width="12" height="13"><path d="M5.5,0.5 V11 M0.5,5.5 H11" stroke="#c6beb2" stroke-width="1.1"/><circle cx="5.5" cy="5.5" r="2.2" fill="#c6beb2"/><rect x="7" y="7.5" width="4" height="4" fill="#c6beb2"/></svg>
<svg class="a" style="left:76.5px;top:64.5px" width="5" height="4"><path d="M0,0.5 H4.5 L2.25,3 Z" fill="#999"/></svg>
<svg class="a" style="left:85.5px;top:60px" width="11" height="12"><path d="M1.5,10.5 L9,1.5" stroke="#c6beb2" stroke-width="1.1"/><rect x="0" y="9" width="3" height="3" fill="#c6beb2"/><rect x="7.5" y="0" width="3" height="3" fill="#c6beb2"/></svg>
<svg class="a" style="left:103.4px;top:60px" width="11" height="12"><path d="M1.5,11 V2 H9" fill="none" stroke="#c6beb2" stroke-width="1.1"/><rect x="0" y="0.5" width="3" height="3" fill="#c6beb2"/><rect x="7.5" y="0.5" width="3" height="3" fill="#c6beb2"/><rect x="0" y="9" width="3" height="3" fill="#c6beb2"/></svg>
<svg class="a" style="left:121.4px;top:60px" width="11" height="12"><path d="M1.5,1.8 H9 L1.5,10.5" fill="none" stroke="#c6beb2" stroke-width="1.1"/><rect x="0" y="0.3" width="3" height="3" fill="#c6beb2"/><rect x="7.5" y="0.3" width="3" height="3" fill="#c6beb2"/><rect x="0" y="9" width="3" height="3" fill="#c6beb2"/></svg>
<svg class="a" style="left:138.8px;top:60px" width="11" height="12"><path d="M1.5,11 Q1.5,2 9,2" fill="none" stroke="#c6beb2" stroke-width="1.1"/><rect x="0" y="9" width="3" height="3" fill="#c6beb2"/><rect x="7.5" y="0.5" width="3" height="3" fill="#c6beb2"/></svg>
<svg class="a" style="left:156.4px;top:60px" width="11" height="12"><path d="M1.5,10.5 L9,1.5" stroke="#c6beb2" stroke-width="1.1"/><rect x="0" y="9" width="3" height="3" fill="#c6beb2"/><rect x="7.5" y="0" width="3" height="3" fill="#c6beb2"/></svg>
<svg class="a" style="left:173.4px;top:60px" width="12" height="12"><path d="M1.5,11 V2 H10" fill="none" stroke="#c2bba8" stroke-width="1.1"/><rect x="0" y="0.5" width="3" height="3" fill="#c2bba8"/><rect x="8.5" y="0.5" width="3" height="3" fill="#c2bba8"/><rect x="0" y="9" width="3" height="3" fill="#c2bba8"/></svg>
<svg class="a" style="left:189.4px;top:64.5px" width="5" height="4"><path d="M0,0.5 H4.5 L2.25,3 Z" fill="#888"/></svg>
<svg class="a" style="left:206px;top:60px" width="11" height="12"><path d="M0.5,6 L5.5,1 L10.5,6 V11.5 H0.5Z" fill="#c4bdb2"/><rect x="3" y="7" width="5" height="3" fill="#e8e0d0"/></svg>
<svg class="a" style="left:221.7px;top:64.5px" width="5" height="4"><path d="M0,0.5 H4.5 L2.25,3 Z" fill="#888"/></svg>
<svg class="a" style="left:231.5px;top:60px" width="12" height="12"><rect x="0.5" y="1.5" width="8" height="8" fill="#c4c0b8" opacity="0.8"/><rect x="3.5" y="3.5" width="8" height="8" fill="#c4c0b8"/></svg>
<svg class="a" style="left:248px;top:60px" width="12" height="12"><rect x="0.5" y="1.5" width="8" height="8" fill="#c4c0b8" opacity="0.8"/><rect x="3.5" y="3.5" width="8" height="8" fill="#c4c0b8"/></svg>
<svg class="a" style="left:267px;top:60px" width="12" height="12"><rect x="0.5" y="1.5" width="8" height="8" fill="#c4c0b8" opacity="0.8"/><rect x="3.5" y="3.5" width="8" height="8" fill="#c4c0b8"/></svg>
<svg class="a" style="left:290.9px;top:60px" width="12" height="12"><rect x="0.5" y="2.5" width="10" height="8" fill="#c8c4bc" opacity="0.9"/></svg>
<svg class="a" style="left:309.5px;top:60px" width="12" height="12"><rect x="0.5" y="2.5" width="10" height="8" fill="#c8c4bc" opacity="0.9"/></svg>
<svg class="a" style="left:326.5px;top:60px" width="12" height="12"><rect x="0.5" y="2.5" width="10" height="8" fill="#c8c4bc" opacity="0.9"/></svg>
<svg class="a" style="left:344.6px;top:60px" width="12" height="12"><rect x="0.5" y="2.5" width="10" height="8" fill="#c8c4bc" opacity="0.9"/></svg>
<svg class="a" style="left:368.5px;top:59.5px" width="14" height="13"><path d="M0.5,0.5 H7 L10,3.5 V12.5 H0.5Z" fill="#eee" stroke="#555" stroke-width="0.9"/><path d="M5,8 L7.5,11 L13,4.5" fill="none" stroke="#2d5fa8" stroke-width="1.6"/></svg>
<svg class="a" style="left:394.7px;top:59.5px" width="13" height="13"><circle cx="5" cy="5" r="4" fill="#f4f4f4" stroke="#555" stroke-width="1.2"/><rect x="3" y="3" width="4" height="4" fill="#fff" stroke="#888" stroke-width="0.6"/><path d="M8,8 L12,12" stroke="#1e3a8a" stroke-width="2"/></svg>
<svg class="a" style="left:412.7px;top:59.5px" width="13" height="13"><circle cx="5" cy="5" r="4" fill="#f4f4f4" stroke="#c8c8c8" stroke-width="1.2"/><path d="M8,8 L12,12" stroke="#c8c8c8" stroke-width="2"/></svg>
<svg class="a" style="left:430px;top:59.5px" width="13" height="13"><circle cx="5" cy="5" r="4" fill="#f4f4f4" stroke="#555" stroke-width="1.2"/><path d="M3,5 H7 M5,3 V7" stroke="#333" stroke-width="1"/><path d="M8,8 L12,12" stroke="#1e3a8a" stroke-width="2"/></svg>
<svg class="a" style="left:447.7px;top:59.5px" width="13" height="13"><circle cx="5" cy="5" r="4" fill="#f4f4f4" stroke="#555" stroke-width="1.2"/><path d="M3,5 H7" stroke="#333" stroke-width="1"/><path d="M8,8 L12,12" stroke="#1e3a8a" stroke-width="2"/></svg>
<div class="a" style="left:463.5px;top:58.4px;width:33.5px;height:15.6px;background:#fff;border:0.6px solid #c6ccd4"></div>
<svg class="a" style="left:488.5px;top:64px" width="7" height="5"><path d="M0.5,0.8 L3.5,3.8 L6.5,0.8" fill="none" stroke="#444" stroke-width="0.9"/></svg>
<svg class="a" style="left:509.3px;top:59.5px" width="11" height="13"><rect x="0.5" y="0.5" width="10" height="12" fill="#ddd" stroke="#555"/><rect x="2" y="2" width="7" height="4" fill="#fff" stroke="#777" stroke-width="0.7"/><rect x="2" y="7.5" width="7" height="3.5" fill="#999"/></svg>
<svg class="a" style="left:524.7px;top:64.5px" width="5" height="4"><path d="M0,0.5 H4.5 L2.25,3 Z" fill="#222"/></svg>
<svg class="a" style="left:534px;top:59.5px" width="11" height="13"><rect x="0.5" y="0.5" width="10" height="12" fill="#fff" stroke="#666" stroke-width="0.8"/><rect x="2" y="2.5" width="2" height="1.6" fill="#e33"/><rect x="2" y="5.5" width="2" height="1.6" fill="#f90"/><rect x="2" y="8.5" width="2" height="1.6" fill="#4a4"/><path d="M5,3.3 H9 M5,6.3 H9 M5,9.3 H9" stroke="#777" stroke-width="1"/></svg>
<svg class="a" style="left:550.3px;top:64.5px" width="5" height="4"><path d="M0,0.5 H4.5 L2.25,3 Z" fill="#222"/></svg>
<svg class="a" style="left:567.2px;top:60px" width="10" height="10"><circle cx="5" cy="5" r="3.8" fill="none" stroke="#222" stroke-width="1.6" stroke-dasharray="1.6,1.2"/><circle cx="5" cy="5" r="3" fill="#333"/><circle cx="5" cy="5" r="1.4" fill="#d8e5f5"/></svg>
<svg class="a" style="left:583.4px;top:64.5px" width="5" height="4"><path d="M0,0.5 H4.5 L2.25,3 Z" fill="#222"/></svg>
<svg class="a" style="left:600px;top:59.5px" width="12" height="12"><circle cx="4.8" cy="4.8" r="3.8" fill="none" stroke="#222" stroke-width="1.4"/><path d="M7.5,7.5 L11,11" stroke="#222" stroke-width="1.8"/></svg>
<svg class="a" style="left:0;top:0" width="620" height="76" font-family="Liberation Sans"><defs><clipPath id="cc"><rect x="247" y="20" width="113.5" height="16"/></clipPath></defs><text x="-0.8" y="13.3" font-size="9.2" fill="#111" stroke="#111" stroke-width="0.18" textLength="18.8" lengthAdjust="spacingAndGlyphs">alyze</text><text x="29.7" y="13.3" font-size="9.2" fill="#111" stroke="#111" stroke-width="0.18" textLength="46.3" lengthAdjust="spacingAndGlyphs">Collaborate</text><text x="89" y="13.3" font-size="9.2" fill="#111" stroke="#111" stroke-width="0.18" textLength="34.2" lengthAdjust="spacingAndGlyphs">Window</text><text x="133.9" y="13.3" font-size="9.2" fill="#111" stroke="#111" stroke-width="0.18" textLength="19.3" lengthAdjust="spacingAndGlyphs">Help</text><text x="6.5" y="31.1" font-size="8.4" fill="#111" stroke="#111" stroke-width="0.18" textLength="43.3" lengthAdjust="spacingAndGlyphs">Perspective:</text><text x="54.8" y="31.1" font-size="8.4" fill="#111" stroke="#111" stroke-width="0.18" textLength="66" lengthAdjust="spacingAndGlyphs">Software Architect</text><text x="179.4" y="31.1" font-size="8.4" fill="#111" stroke="#111" stroke-width="0.18" textLength="55.8" lengthAdjust="spacingAndGlyphs">Create Diagram</text><text x="465.8" y="70" font-size="8.4" fill="#111" stroke="#111" stroke-width="0.18" textLength="18.6" lengthAdjust="spacingAndGlyphs">100%</text><text x="262" y="31.1" font-size="8.4" fill="#111" stroke="#111" stroke-width="0.18" clip-path="url(#cc)" textLength="133.5" lengthAdjust="spacingAndGlyphs">UI navigation simulation configuration</text></svg>
</div>
</body></html>
